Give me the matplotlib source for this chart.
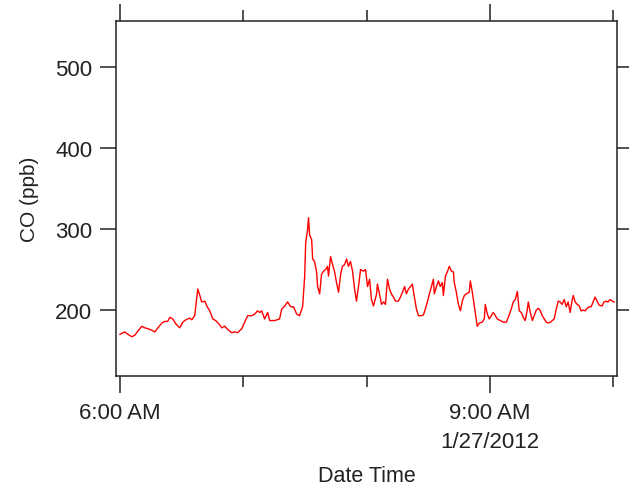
import numpy as np
import pandas as pd
import matplotlib
matplotlib.use("Agg")
import matplotlib.pyplot as plt
import matplotlib.dates as mdates
from matplotlib.ticker import FixedLocator, FixedFormatter, NullFormatter

plt.rcParams['font.family'] = ['Liberation Sans', 'DejaVu Sans']

# minutes after 6:00 AM on 1/27/2012, and CO readings (ppb)
minutes = [0, 2.4, 3.9, 5.8, 7.3, 8.7, 10.7, 12.1, 13.6, 15.5, 17.0, 18.5, 20.4, 21.9,
           23.3, 24.3, 25.7, 27.2, 29.1, 30.6, 32.1, 34.0, 35.0, 36.4, 37.9, 38.9,
           39.8, 41.3, 42.3, 43.7, 45.2, 46.6, 48.1, 49.6, 51.0, 52.5, 54.4, 55.9,
           57.3, 59.3, 60.7, 62.2, 64.1, 65.6, 67.0, 68.0, 69.0, 70.4, 71.9, 72.9,
           75.3, 77.7, 78.7, 80.2, 81.6, 83.1, 84.5, 86.0, 87.4, 88.9, 89.9, 90.4,
           91.3, 91.8, 92.3, 93.3, 93.8, 94.7, 95.7, 96.2, 97.2, 98.1, 99.1, 100.1,
           101.0, 101.5, 102.5, 103.5, 104.4, 105.4, 106.4, 107.4, 108.3, 109.3,
           110.3, 111.2, 112.2, 113.2, 114.2, 115.1, 116.1, 117.1, 118.5, 119.5,
           120.5, 121.5, 122.4, 123.4, 124.9, 125.3, 126.3, 127.3, 128.3, 129.2,
           130.2, 131.2, 132.1, 133.1, 134.1, 135.5, 136.5, 137.5, 138.5, 139.4,
           140.4, 141.4, 142.3, 143.3, 144.3, 145.3, 146.7, 147.7, 148.6, 149.6,
           150.6, 151.6, 152.5, 153.0, 154.0, 155.0, 155.9, 156.9, 157.4, 158.4,
           159.3, 160.3, 161.3, 162.3, 162.7, 163.7, 164.7, 165.7, 166.6, 167.6,
           168.6, 170.0, 170.5, 171.5, 172.5, 173.4, 173.9, 174.9, 176.3, 177.3,
           177.8, 178.8, 179.7, 180.7, 181.7, 182.7, 183.6, 185.1, 186.6, 188.0,
           189.0, 190.4, 191.4, 192.4, 193.4, 194.3, 195.3, 196.3, 197.2, 198.2,
           198.7, 199.7, 200.7, 201.6, 202.6, 203.6, 204.6, 205.5, 206.5, 207.5,
           208.4, 209.4, 210.4, 211.3, 212.3, 213.3, 214.2, 215.2, 216.2, 217.2,
           218.1, 219.1, 220.1, 220.6, 221.5, 222.5, 223.5, 224.4, 225.4, 226.4,
           227.3, 228.3, 229.3, 230.7, 231.2, 232.2, 233.2, 234.6, 235.6, 236.6,
           237.5, 238.5, 239.5, 240.5]
co_ppb = [170, 173, 170, 167, 169, 174, 180, 178, 177, 175, 173, 178, 184, 186,
          186, 191, 189, 183, 178, 185, 188, 190, 188, 193, 226, 218,
          210, 211, 205, 199, 189, 187, 183, 178, 180, 176, 172, 173,
          172, 177, 185, 193, 193, 195, 199, 197, 199, 189, 197, 187,
          187, 189, 201, 205, 210, 204, 204, 195, 193, 204, 241, 283,
          299, 314, 293, 287, 263, 260, 247, 229, 220, 244, 248, 250,
          254, 242, 266, 256, 248, 234, 222, 244, 254, 256,
          263, 254, 260, 248, 226, 211, 229, 250, 248, 250,
          229, 238, 213, 205, 220, 232, 220, 207, 210, 207,
          238, 226, 220, 216, 211, 211, 216, 222, 229, 220,
          226, 229, 232, 216, 201, 193, 193, 194, 201, 210,
          220, 229, 238, 220, 229, 236, 229, 234, 218, 242,
          247, 254, 248, 247, 234, 222, 207, 199, 211, 218,
          220, 222, 236, 222, 204, 189, 180, 184, 185, 189,
          207, 195, 189, 193, 197, 193, 189, 187, 185, 185,
          191, 201, 210, 213, 223, 199, 197, 191, 187, 200,
          210, 197, 187, 193, 200, 202, 199, 193, 189, 185,
          184, 185, 187, 189, 201, 211, 210, 207, 213, 204,
          210, 197, 213, 218, 210, 207, 205, 199, 200, 199,
          202, 204, 204, 213, 216, 211, 206, 205, 210, 211,
          210, 213, 211, 210]

y_ticks = [200, 300, 400, 500]
major_hours = [6, 9]
major_labels = ['6:00 AM', '9:00 AM\n1/27/2012']
minor_hours = [7, 8, 10]

start = pd.Timestamp('2012-01-27 06:00')
times = start + pd.to_timedelta(minutes, unit='m')

fig = plt.figure(figsize=(6.29, 4.89), dpi=100)
ax = fig.add_axes([0.1844, 0.229, 0.7966, 0.726])

ax.plot(times, co_ppb, color='#ff0000', lw=1.0)

ax.set_xlim(start - pd.Timedelta(minutes=1.9), start + pd.Timedelta(minutes=241.9))
ax.set_ylim(118.5, 557)

major_pos = [mdates.date2num(start + pd.Timedelta(hours=h - 6)) for h in major_hours]
minor_pos = [mdates.date2num(start + pd.Timedelta(hours=h - 6)) for h in minor_hours]
ax.xaxis.set_major_locator(FixedLocator(major_pos))
ax.xaxis.set_major_formatter(FixedFormatter(major_labels))
ax.xaxis.set_minor_locator(FixedLocator(minor_pos))
ax.xaxis.set_minor_formatter(NullFormatter())
ax.set_yticks(y_ticks)

for s in ax.spines.values():
    s.set_color('#222222')
    s.set_linewidth(1.1)

ax.tick_params(axis='x', which='major', direction='out', length=12, width=1.1,
               top=True, color='#222222', labelsize=16, pad=7, labelcolor='#222222')
ax.tick_params(axis='x', which='minor', direction='out', length=8, width=1.1,
               top=True, color='#222222')
ax.tick_params(axis='y', direction='out', length=11.5, width=1.1, right=True,
               color='#222222', labelsize=16, pad=5.5, labelcolor='#222222')
for lab in ax.get_xticklabels():
    lab.set_linespacing(1.45)

ax.set_xlabel('Date Time', fontsize=15.5, labelpad=10, color='#222222')
ax.set_ylabel('CO (ppb)', fontsize=15, labelpad=12, color='#222222')

fig.savefig('out.png', dpi=100)
